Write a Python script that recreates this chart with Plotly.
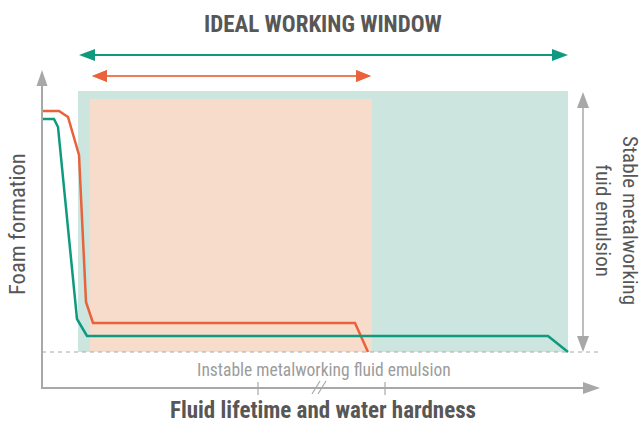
import plotly.graph_objects as go

# ---------------- data (schematic units: x = lifetime, y = foam level) ----------------
orange_x = [42, 59, 68, 79, 86, 93, 355, 368]
orange_y = [316, 316, 310, 272, 125, 104, 104, 75]
green_x = [42, 54, 58, 77, 87, 548, 568]
green_y = [308, 308, 300, 108, 91, 91, 75]

green_window = [78, 568]      # x extent of green working window
orange_window = [90, 372]     # x extent of orange working window
window_top_green = 336
window_top_orange = 328
baseline_y = 75               # stable / instable emulsion boundary
axis_origin = [42, 39]
x_axis_end = 600
y_axis_end = 357
green_arrow = [79, 568, 372]
orange_arrow = [92, 371, 351]
stable_arrow = [583, 75, 335]
tick_x = [258, 385]
break_x = [312, 318]

title = "IDEAL WORKING WINDOW"
x_title = "Fluid lifetime and water hardness"
y_title = "Foam formation"
stable_label = "Stable metalworking<br>fuid emulsion"
instable_label = "Instable metalworking fluid emulsion"

GREEN = "#0E9A7F"
ORANGE = "#E9623B"
GREEN_BG = "#CCE6DF"
ORANGE_BG = "#F8DCCB"
AXIS = "#A8A8A8"
DARK = "#575757"
LIGHT = "#9C9C9C"
NARROW = "Liberation Sans Narrow, Roboto Condensed, Arial Narrow, Roboto, sans-serif"

fig = go.Figure()
shapes = []

# background windows
shapes.append(dict(type="rect", x0=green_window[0], x1=green_window[1], y0=baseline_y,
                   y1=window_top_green, fillcolor=GREEN_BG, line_width=0, layer="below"))
shapes.append(dict(type="rect", x0=orange_window[0], x1=orange_window[1], y0=baseline_y,
                   y1=window_top_orange, fillcolor=ORANGE_BG, line_width=0, layer="below"))

# dashed baseline
shapes.append(dict(type="line", x0=axis_origin[0], x1=x_axis_end + 2, y0=baseline_y, y1=baseline_y,
                   line=dict(color=AXIS, width=1, dash="4px,4px")))


def head(tx, ty, dx, dy, L, W, color):
    # filled arrow head with tip at (tx, ty), pointing along (dx, dy)
    bx, by = tx - dx * L, ty - dy * L
    px, py = -dy * W, dx * W
    path = f"M{tx},{ty} L{bx + px},{by + py} L{bx - px},{by - py} Z"
    return dict(type="path", path=path, fillcolor=color, line_width=0)


def hline_arrow(x0, x1, y, color, width, both=True, L=16, W=6):
    out = [dict(type="line", x0=x0 + (L - 2 if both else 0), x1=x1 - (L - 2), y0=y, y1=y,
                line=dict(color=color, width=width))]
    out.append(head(x1, y, 1, 0, L, W, color))
    if both:
        out.append(head(x0, y, -1, 0, L, W, color))
    return out


# axes
shapes.append(dict(type="line", x0=axis_origin[0], x1=axis_origin[0], y0=axis_origin[1],
                   y1=y_axis_end - 14, line=dict(color=AXIS, width=2)))
shapes.append(head(axis_origin[0], y_axis_end, 0, 1, 16, 5.5, AXIS))
shapes.append(dict(type="line", x0=axis_origin[0] - 1, x1=x_axis_end - 15, y0=axis_origin[1],
                   y1=axis_origin[1], line=dict(color=AXIS, width=2)))
shapes.append(head(x_axis_end, axis_origin[1], 1, 0, 17, 6, AXIS))

# ticks and axis break
for tx in tick_x:
    shapes.append(dict(type="line", x0=tx, x1=tx, y0=axis_origin[1] - 7, y1=axis_origin[1] + 6,
                       line=dict(color=AXIS, width=1.2)))
for bx in break_x:
    shapes.append(dict(type="line", x0=bx, x1=bx + 8, y0=axis_origin[1] - 6, y1=axis_origin[1] + 7,
                       line=dict(color=AXIS, width=1.2)))

# top arrows
shapes += hline_arrow(green_arrow[0], green_arrow[1], green_arrow[2], GREEN, 2, L=16, W=6)
shapes += hline_arrow(orange_arrow[0], orange_arrow[1], orange_arrow[2], "#EE7A58", 2, L=15, W=6)
shapes.append(head(orange_arrow[0], orange_arrow[2], -1, 0, 15, 6, ORANGE))
shapes.append(head(orange_arrow[1], orange_arrow[2], 1, 0, 15, 6, ORANGE))

# right vertical double arrow
sx, sy0, sy1 = stable_arrow
shapes.append(dict(type="line", x0=sx, x1=sx, y0=sy0 + 14, y1=sy1 - 14, line=dict(color=AXIS, width=1.5)))
shapes.append(head(sx, sy1, 0, 1, 16, 6, AXIS))
shapes.append(head(sx, sy0, 0, -1, 16, 6, AXIS))

# curves
fig.add_trace(go.Scatter(x=orange_x, y=orange_y, mode="lines",
                         line=dict(color=ORANGE, width=2.5), hoverinfo="skip"))
fig.add_trace(go.Scatter(x=green_x, y=green_y, mode="lines",
                         line=dict(color=GREEN, width=2.5), hoverinfo="skip"))

annotations = [
    dict(x=323, y=403, text=f"<b>{title}</b>", showarrow=False,
         font=dict(family=NARROW, size=23, color=DARK)),
    dict(x=323, y=17, text=f"<b>{x_title}</b>", showarrow=False,
         font=dict(family=NARROW, size=23, color=DARK)),
    dict(x=324, y=57, text=instable_label, showarrow=False,
         font=dict(family=NARROW, size=17.5, color=LIGHT)),
    dict(x=17, y=203, text=y_title, showarrow=False, textangle=-90,
         font=dict(family=NARROW, size=22.5, color=DARK)),
    dict(x=617, y=207, text=stable_label, showarrow=False, textangle=90,
         font=dict(family=NARROW, size=21, color=DARK)),
]

fig.update_layout(
    width=643, height=427,
    margin=dict(l=0, r=0, t=0, b=0),
    paper_bgcolor="white", plot_bgcolor="white",
    showlegend=False,
    xaxis=dict(range=[0, 643], visible=False, fixedrange=True),
    yaxis=dict(range=[0, 427], visible=False, fixedrange=True),
    shapes=shapes,
    annotations=annotations,
)

fig.write_html("out.html", config={"displayModeBar": False},
               post_script="document.body.style.margin='0';document.body.style.overflow='hidden';")
